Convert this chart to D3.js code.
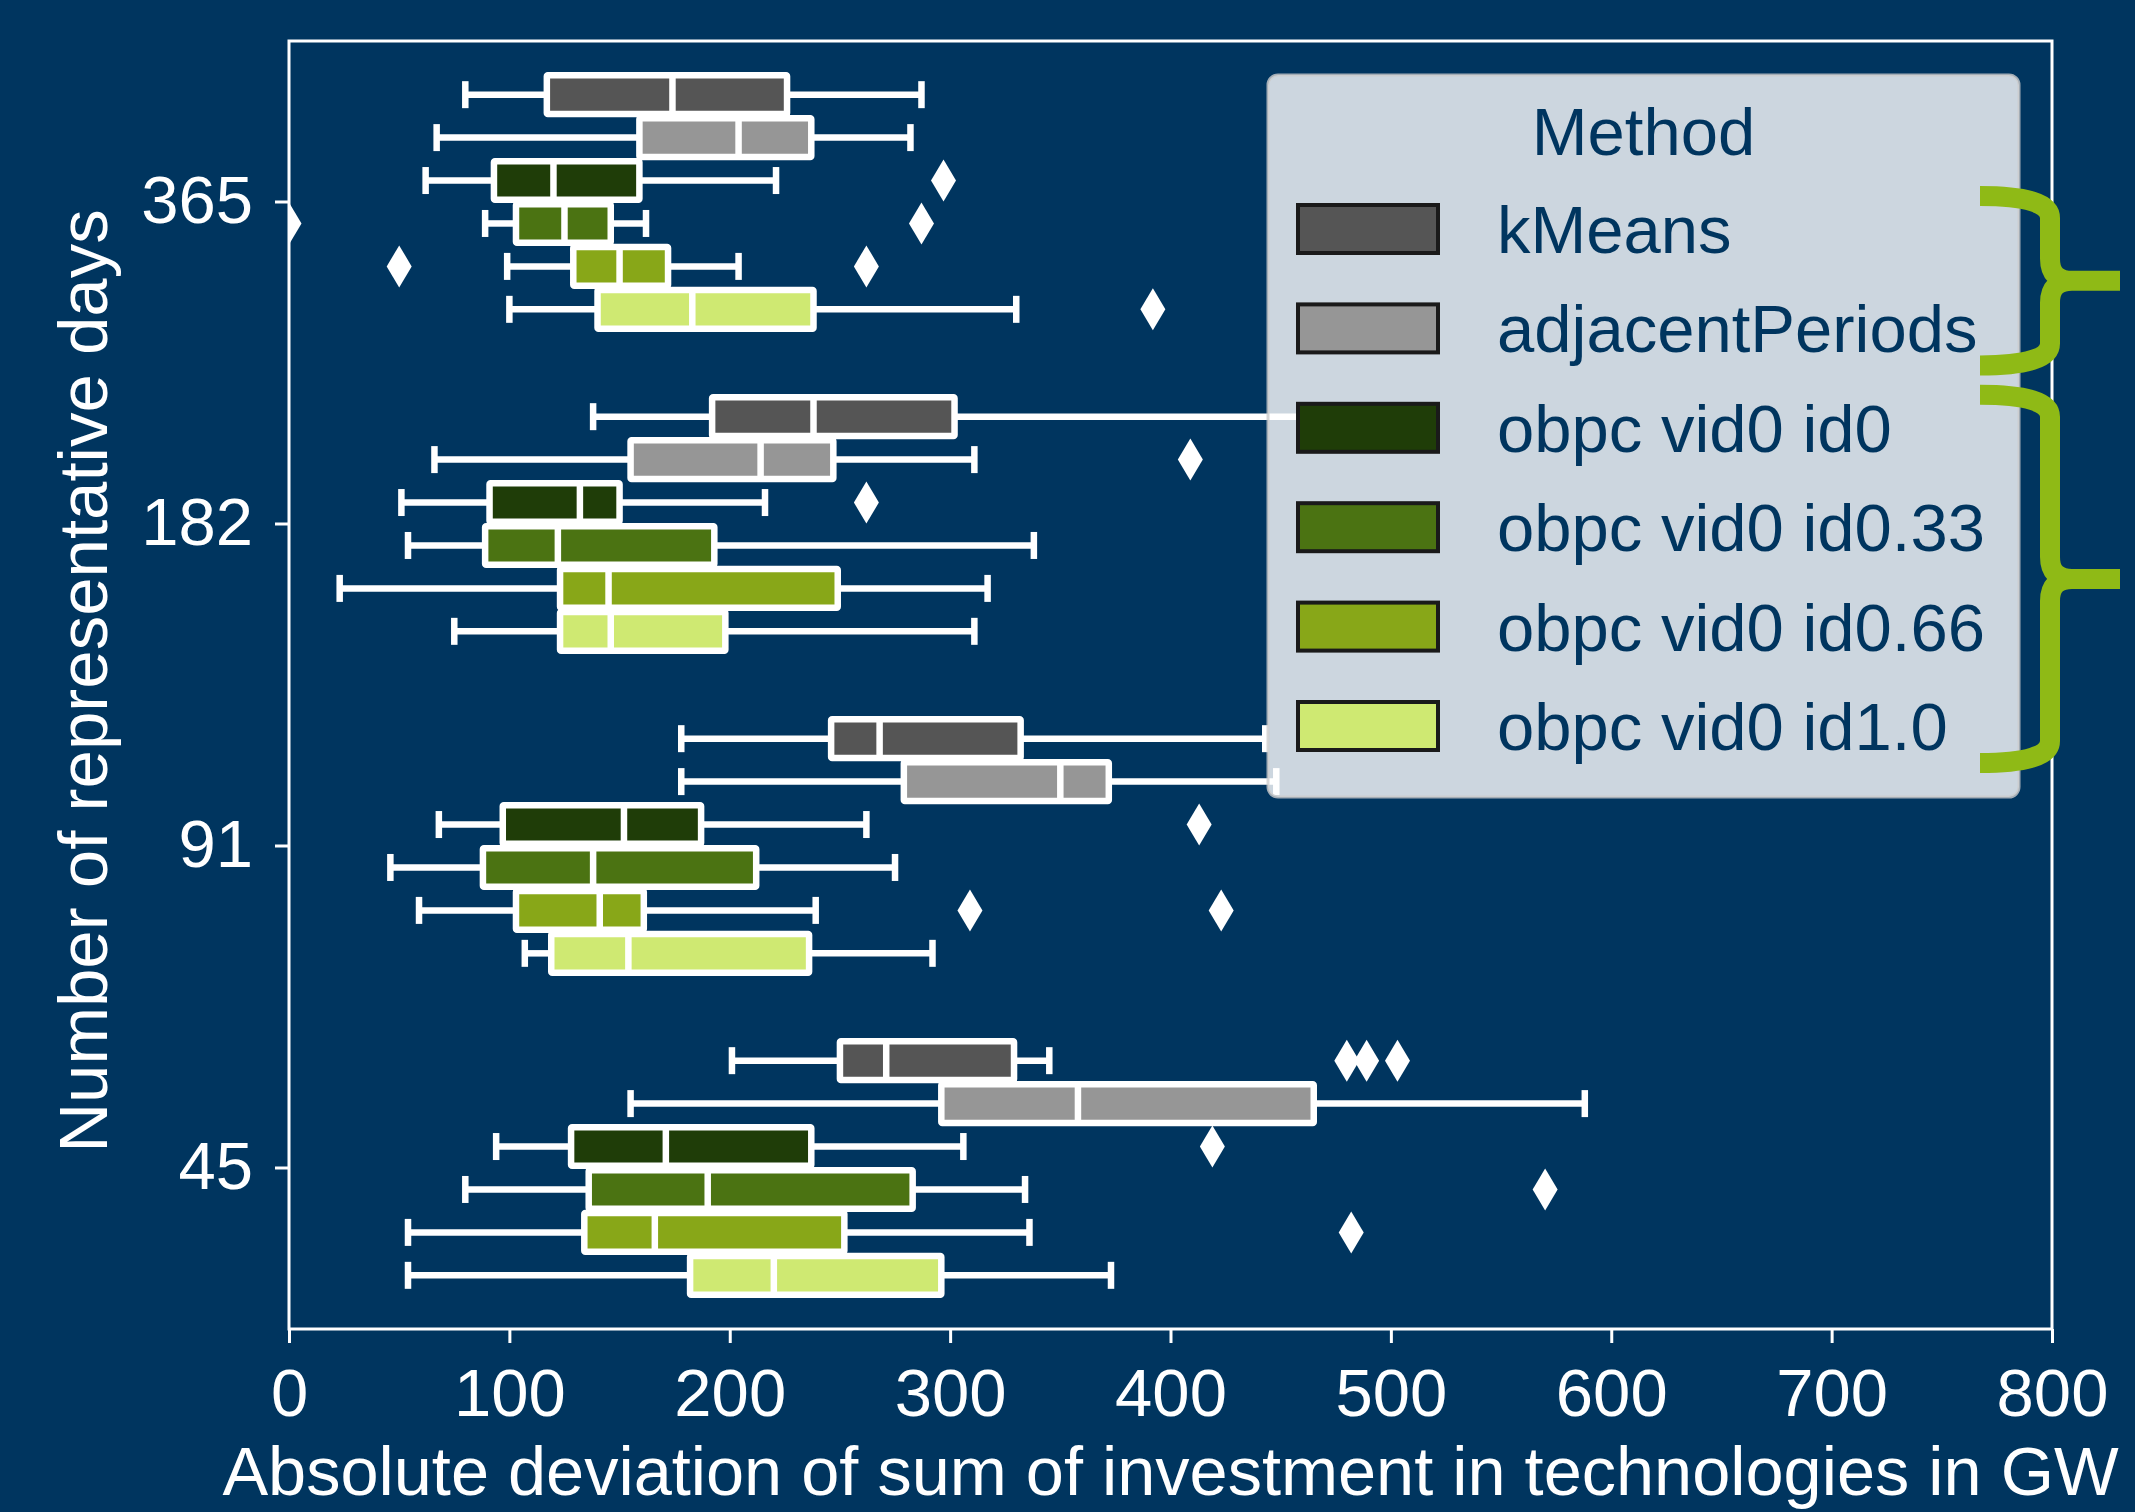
<!DOCTYPE html>
<html>
<head>
<meta charset="utf-8">
<script src="https://cdn.jsdelivr.net/npm/d3@7"></script>
<style>
  body { margin: 0; background: #00355f; }
  text { font-family: "Liberation Sans", Arial, sans-serif; }
</style>
</head>
<body>
<div id="chart"></div>
<script>
// categories on the y axis, top to bottom
var days = ["365", "182", "91", "45"];
var methods = ["kMeans", "adjacentPeriods", "obpc vid0 id0", "obpc vid0 id0.33", "obpc vid0 id0.66", "obpc vid0 id1.0"];
var palette = ["#555555", "#969696", "#1f3d08", "#4b7312", "#88a718", "#cfe972"];
var xTicks = [0, 100, 200, 300, 400, 500, 600, 700, 800];

// [lower whisker, q1, median, q3, upper whisker] per method
var box365 = [[80, 117, 174, 226, 287], [67, 159, 204, 237, 282], [62, 93, 120, 159, 221],
              [89, 103, 125, 146, 162], [99, 129, 150, 172, 204], [100, 140, 183, 238, 330]];
var box182 = [[138, 192, 238, 302, 470], [66, 155, 214, 247, 311], [51, 91, 132, 150, 216],
              [54, 89, 122, 193, 338], [23, 123, 145, 249, 317], [75, 123, 146, 198, 311]];
var box91  = [[178, 246, 268, 332, 443], [178, 279, 350, 372, 448], [68, 97, 152, 187, 262],
              [46, 88, 138, 212, 275], [59, 103, 141, 161, 239], [107, 119, 154, 236, 292]];
var box45  = [[201, 250, 271, 329, 345], [155, 296, 358, 465, 588], [94, 128, 171, 237, 306],
              [80, 136, 190, 283, 334], [54, 134, 166, 252, 336], [54, 182, 220, 296, 373]];

// outliers per method
var out365 = [[], [], [297], [0, 287], [50, 262], [392]];
var out182 = [[], [409], [262], [], [], []];
var out91  = [[], [], [413], [], [309, 423], []];
var out45  = [[480, 489, 503], [], [419], [570], [482], []];

function init() {
    var w = 2135, h = 1512;
    var left = 289, right = 2052, top = 41, bottom = 1329;

    var boxes = [box365, box182, box91, box45];
    var outs = [out365, out182, out91, out45];

    var rows = [];
    days.forEach(function(d, i) {
        methods.forEach(function(m, j) {
            var s = boxes[i][j];
            rows.push({day: d, method: m, lo: s[0], q1: s[1], med: s[2], q3: s[3], hi: s[4], out: outs[i][j]});
        });
    });

    var svg = d3.select("#chart").append("svg")
        .attr("width", w).attr("height", h);

    svg.append("rect").attr("width", w).attr("height", h).attr("fill", "#00355f");

    var xScale = d3.scaleLinear().domain([0, 800]).range([left, right]);
    var yScale = d3.scaleBand().domain(days).range([top, bottom]);
    var bw = yScale.bandwidth();
    var hue = d3.scaleBand().domain(methods).range([-0.4 * bw, 0.4 * bw]);
    var color = d3.scaleOrdinal().domain(methods).range(palette);
    var boxH = hue.bandwidth() * 0.9;
    var capH = 27;
    var lw6 = 6.5;

    svg.append("clipPath").attr("id", "plot")
        .append("rect").attr("x", left).attr("y", top)
        .attr("width", right - left).attr("height", bottom - top);

    // clip applied at top level so the rect is in page coordinates
    var g = svg.append("g").attr("clip-path", "url(#plot)");
    var box = g.selectAll("g.box").data(rows).enter().append("g")
        .attr("class", "box")
        .attr("transform", function(d) {
            return "translate(0," + (yScale(d.day) + bw / 2 + hue(d.method) + hue.bandwidth() / 2) + ")";
        });

    // whiskers
    box.append("line")
        .attr("x1", function(d) { return xScale(d.lo); })
        .attr("x2", function(d) { return xScale(d.q1); })
        .attr("stroke", "white").attr("stroke-width", lw6);
    box.append("line")
        .attr("x1", function(d) { return xScale(d.q3); })
        .attr("x2", function(d) { return xScale(d.hi); })
        .attr("stroke", "white").attr("stroke-width", lw6);
    // caps
    ["lo", "hi"].forEach(function(k) {
        box.append("line")
            .attr("x1", function(d) { return xScale(d[k]); })
            .attr("x2", function(d) { return xScale(d[k]); })
            .attr("y1", -capH / 2).attr("y2", capH / 2)
            .attr("stroke", "white").attr("stroke-width", lw6);
    });
    // box body
    box.append("rect")
        .attr("x", function(d) { return xScale(d.q1); })
        .attr("width", function(d) { return xScale(d.q3) - xScale(d.q1); })
        .attr("y", -boxH / 2).attr("height", boxH)
        .attr("fill", function(d) { return color(d.method); })
        .attr("stroke", "white").attr("stroke-width", lw6)
        .attr("rx", 1);
    // median
    box.append("line")
        .attr("x1", function(d) { return xScale(d.med); })
        .attr("x2", function(d) { return xScale(d.med); })
        .attr("y1", -boxH / 2).attr("y2", boxH / 2)
        .attr("stroke", "white").attr("stroke-width", lw6);
    // outliers (thin diamonds)
    box.selectAll("path.out").data(function(d) { return d.out; }).enter().append("path")
        .attr("class", "out")
        .attr("d", "M0,-21L12.5,0L0,21L-12.5,0Z")
        .attr("transform", function(v) { return "translate(" + xScale(v) + ",0)"; })
        .attr("fill", "white");

    // frame
    svg.append("rect")
        .attr("x", left).attr("y", top)
        .attr("width", right - left).attr("height", bottom - top)
        .attr("fill", "none").attr("stroke", "white").attr("stroke-width", 3);

    var xAxis = d3.axisBottom(xScale).tickValues(xTicks).tickSize(14).tickPadding(25);
    var yAxis = d3.axisLeft(yScale).tickSize(14).tickPadding(22);

    var gx = svg.append("g").attr("transform", "translate(0," + bottom + ")").call(xAxis);
    var gy = svg.append("g").attr("transform", "translate(" + left + ",0)").call(yAxis);
    [gx, gy].forEach(function(a) {
        a.select(".domain").remove();
        a.selectAll("line").attr("stroke", "white").attr("stroke-width", 3);
        a.selectAll("text").attr("fill", "white").attr("font-size", 67)
            .style("font-family", '"Liberation Sans", Arial, sans-serif');
    });

    svg.append("text")
        .attr("x", (left + right) / 2).attr("y", 1495)
        .attr("text-anchor", "middle").attr("fill", "white").attr("font-size", 68.5)
        .text("Absolute deviation of sum of investment in technologies in GW");

    svg.append("text")
        .attr("transform", "translate(107," + ((top + bottom) / 2 - 4) + ") rotate(-90)")
        .attr("text-anchor", "middle").attr("fill", "white").attr("font-size", 69)
        .text("Number of representative days");

    // legend
    var lg = svg.append("g");
    var lx = 1268, ly = 75, lw = 751, lh = 722;
    lg.append("rect")
        .attr("x", lx).attr("y", ly).attr("width", lw).attr("height", lh).attr("rx", 10)
        .attr("fill", "white").attr("fill-opacity", 0.8)
        .attr("stroke", "#cccccc").attr("stroke-opacity", 0.8).attr("stroke-width", 3);
    lg.append("text")
        .attr("x", lx + lw / 2).attr("y", 155)
        .attr("text-anchor", "middle").attr("fill", "#00355f").attr("font-size", 67)
        .text("Method");

    var rowY = d3.scalePoint().domain(methods).range([229, 726]);
    var item = lg.selectAll("g.item").data(methods).enter().append("g")
        .attr("class", "item")
        .attr("transform", function(m) { return "translate(0," + rowY(m) + ")"; });
    item.append("rect")
        .attr("x", 1298).attr("y", -24).attr("width", 140).attr("height", 48)
        .attr("fill", function(m) { return color(m); })
        .attr("stroke", "#1a1a1a").attr("stroke-width", 4);
    item.append("text")
        .attr("x", 1497).attr("y", 24)
        .attr("fill", "#00355f").attr("font-size", 67)
        .text(function(m) { return m; });

    // curly braces grouping the legend entries
    function brace(y0, y1) {
        var xl = 1980, xv = 2050, xt = 2120, ym = (y0 + y1) / 2, r = 22;
        return "M" + xl + "," + y0 +
               "Q" + xv + "," + y0 + " " + xv + "," + (y0 + r) +
               "L" + xv + "," + (ym - r) +
               "Q" + xv + "," + ym + " " + (xv + r) + "," + ym +
               "L" + xt + "," + ym +
               "M" + (xv + r) + "," + ym +
               "Q" + xv + "," + ym + " " + xv + "," + (ym + r) +
               "L" + xv + "," + (y1 - r) +
               "Q" + xv + "," + y1 + " " + xl + "," + y1;
    }
    var braces = [[methods[0], methods[1]], [methods[2], methods[5]]];
    svg.selectAll("path.brace").data(braces).enter().append("path")
        .attr("class", "brace")
        .attr("d", function(b) { return brace(rowY(b[0]) - 33, rowY(b[1]) + 37); })
        .attr("fill", "none").attr("stroke", "#8fba16").attr("stroke-width", 20)
        .attr("stroke-linejoin", "round");
}

window.onload = init;
</script>
</body>
</html>
